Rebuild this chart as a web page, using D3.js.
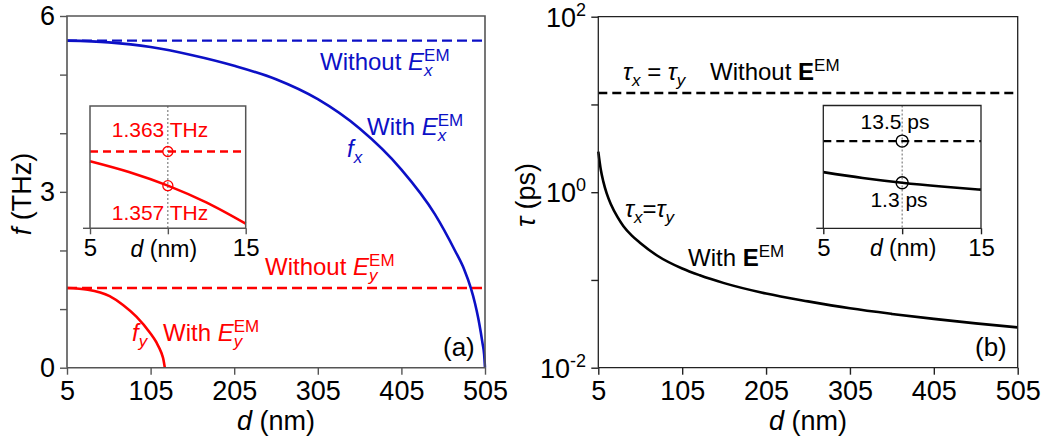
<!DOCTYPE html>
<html lang="en">
<head>
<meta charset="UTF-8">
<title>f and tau vs d</title>
<script src="https://d3js.org/d3.v7.min.js"></script>
<style>
    body { margin: 0; background: #fff; }
    text { font-family: Arial, "Liberation Sans", sans-serif; }
</style>
</head>
<body>
<svg id="chart" width="1042" height="445"></svg>
<script>
// ---- panel (a): frequencies ----
const fxD = [5, 55, 105, 155, 205, 255, 305, 355, 405, 445, 469, 480, 488, 493, 497, 500, 502, 504, 505];
const fxVal = [5.58, 5.55, 5.47, 5.33, 5.15, 4.92, 4.58, 4.08, 3.38, 2.62, 2.0, 1.68, 1.36, 1.10, 0.84, 0.60, 0.42, 0.22, 0];
const fyD = [5, 30, 56, 72, 88, 104, 112, 118, 120, 122];
const fyVal = [1.36, 1.33, 1.22, 1.07, 0.87, 0.60, 0.43, 0.25, 0.16, 0];
const fxWithout = 5.58;
const fyWithout = 1.36;
const xTicks = [5, 105, 205, 305, 405, 505];
const fTicks = [0, 1, 2, 3, 4, 5, 6];
const fTickLabels = ["0", "", "", "3", "", "", "6"];

// inset (a)
const insetD = [5, 7.5, 10, 12.5, 15];
const insetFy = [1.3613, 1.3594, 1.357, 1.3540, 1.3503];
const insetFyWithout = 1.363;

// ---- panel (b): lifetimes ----
const tauD = [5, 8, 11, 15, 20, 28, 35, 45, 55, 75, 105, 126, 155, 205, 255, 305, 355, 405, 455, 505];
const tauVal = [2.9, 1.8, 1.32, 0.97, 0.73, 0.52, 0.41, 0.32, 0.264, 0.19, 0.135, 0.113, 0.092, 0.07, 0.057, 0.0475, 0.041, 0.036, 0.032, 0.0288];
const tauWithout = 13.5;
const tauTicks = [0.01, 0.1, 1, 10, 100];
const tauTickExp = ["-2", "", "0", "", "2"];

// inset (b)
const insetTauD = [5, 7.5, 10, 12.5, 15];
const insetTau = [2.36, 1.7, 1.3, 1.05, 0.88];
const insetTauWithout = 13.5;

const BLUE = "#0c10c6";
const RED = "#ff0000";
const svg = d3.select("#chart");

// helper: text made of parts {t, it, b, sup, sub, size}
function rich(g, x, y, parts, opt = {}) {
    const t = g.append("text")
        .attr("x", x).attr("y", y)
        .attr("font-size", opt.size || 24)
        .attr("fill", opt.fill || "#000")
        .attr("text-anchor", opt.anchor || "start");
    let shift = 0, lastSupW = 0;
    parts.forEach(p => {
        const s = t.append("tspan").text(p.t);
        if (p.it) s.attr("font-style", "italic");
        if (p.b) s.attr("font-weight", "bold");
        let target = 0;
        if (p.sup) target = -(p.sup === true ? 9 : p.sup);
        if (p.sub) target = p.sub === true ? 6 : p.sub;
        if (p.sup || p.sub) s.attr("font-size", p.size || 17);
        if (target !== shift) { s.attr("dy", target - shift); shift = target; }
        if (p.stack) s.attr("dx", -lastSupW);
        if (p.sup) lastSupW = s.node().getComputedTextLength();
    });
    return t;
}

function frame(g, x0, x1, y0, y1, color, w) {
    g.append("path")
        .attr("d", `M${x0},${y1}V${y0}H${x1}V${y1}H${x0}`)
        .attr("fill", "none").attr("stroke", color).attr("stroke-width", w);
}

function styleAxis(ax, color, fs) {
    ax.select(".domain").remove();
    ax.selectAll(".tick line").attr("stroke", color).attr("stroke-width", 1.4);
    ax.selectAll(".tick text").attr("fill", "#000").attr("font-size", fs)
        .attr("font-family", 'Arial, "Liberation Sans", sans-serif');
}

// ================= panel (a) =================
const A = { l: 67, r: 485, t: 16, b: 367.7 };
const xA = d3.scaleLinear().domain([5, 505]).range([A.l, A.r]);
const yA = d3.scaleLinear().domain([0, 6]).range([A.b, A.t]);
const gA = svg.append("g");

const axAx = gA.append("g").attr("transform", `translate(0,${A.b})`)
    .call(d3.axisBottom(xA).tickValues(xTicks).tickSize(7).tickPadding(6));
styleAxis(axAx, "#555", 27);
const ayA = gA.append("g").attr("transform", `translate(${A.l},0)`)
    .call(d3.axisLeft(yA).tickValues(fTicks).tickSize(7).tickPadding(5)
        .tickFormat((d, i) => fTickLabels[i]));
styleAxis(ayA, "#555", 27);

const lineA = d3.line().x(d => xA(d[0])).y(d => yA(d[1])).curve(d3.curveMonotoneX);
gA.append("path").datum(fxD.map((d, i) => [d, fxVal[i]])).attr("d", lineA)
    .attr("fill", "none").attr("stroke", BLUE).attr("stroke-width", 2.6);
gA.append("path").datum(fyD.map((d, i) => [d, fyVal[i]])).attr("d", lineA)
    .attr("fill", "none").attr("stroke", RED).attr("stroke-width", 2.6);
gA.append("line").attr("x1", xA(5)).attr("x2", xA(505))
    .attr("y1", yA(fxWithout)).attr("y2", yA(fxWithout))
    .attr("stroke", BLUE).attr("stroke-width", 2.4).attr("stroke-dasharray", "10,5");
gA.append("line").attr("x1", xA(5)).attr("x2", xA(505))
    .attr("y1", yA(fyWithout)).attr("y2", yA(fyWithout))
    .attr("stroke", RED).attr("stroke-width", 2.4).attr("stroke-dasharray", "10,5");
frame(gA, A.l, A.r, A.t, A.b, "#555", 1.6);

rich(gA, 320, 70, [{ t: "Without " }, { t: "E", it: 1 }, { t: "EM", sup: true }, { t: "x", it: 1, sub: 6, stack: 1 }], { fill: BLUE });
rich(gA, 367, 135, [{ t: "With " }, { t: "E", it: 1 }, { t: "EM", sup: true }, { t: "x", it: 1, sub: 6, stack: 1 }], { fill: BLUE });
rich(gA, 347, 157, [{ t: "f", it: 1 }, { t: "x", it: 1, sub: true }], { fill: BLUE });
rich(gA, 265, 275, [{ t: "Without " }, { t: "E", it: 1 }, { t: "EM", sup: true }, { t: "y", it: 1, sub: 6, stack: 1 }], { fill: RED });
rich(gA, 163, 341, [{ t: "With " }, { t: "E", it: 1 }, { t: "EM", sup: true }, { t: "y", it: 1, sub: 6, stack: 1 }], { fill: RED });
rich(gA, 132, 341, [{ t: "f", it: 1 }, { t: "y", it: 1, sub: true }], { fill: RED });
rich(gA, 443, 356, [{ t: "(a)" }], { size: 26 });

rich(gA, (A.l + A.r) / 2, 430, [{ t: "d", it: 1 }, { t: " (nm)" }], { size: 27, anchor: "middle" });
rich(gA.append("g").attr("transform", "translate(31,194) rotate(-90)"), 0, 0,
    [{ t: "f", it: 1 }, { t: " (THz)" }], { size: 27, anchor: "middle" });

// inset (a)
const IA = { l: 90, r: 245.7, t: 106, b: 228.3 };
const xIA = d3.scaleLinear().domain([5, 15]).range([IA.l, IA.r]);
const yIA = d3.scaleLinear().domain([1.3495, 1.371]).range([IA.b, IA.t]);
const gIA = svg.append("g");
gIA.append("rect").attr("x", IA.l).attr("y", IA.t).attr("width", IA.r - IA.l).attr("height", IA.b - IA.t).attr("fill", "#fff");
const axIA = gIA.append("g").attr("transform", `translate(0,${IA.b})`)
    .call(d3.axisBottom(xIA).tickValues([5, 10, 15]).tickSize(6).tickPadding(5)
        .tickFormat(d => d === 10 ? "" : d));
styleAxis(axIA, "#555", 24);
gIA.append("line").attr("x1", xIA(10)).attr("x2", xIA(10)).attr("y1", IA.t).attr("y2", IA.b)
    .attr("stroke", "#666").attr("stroke-width", 1).attr("stroke-dasharray", "2,2");
gIA.append("line").attr("x1", IA.l - 7).attr("x2", IA.l).attr("y1", IA.b).attr("y2", IA.b)
    .attr("stroke", "#555").attr("stroke-width", 1.4);
gIA.append("path").datum(insetD.map((d, i) => [d, insetFy[i]]))
    .attr("d", d3.line().x(d => xIA(d[0])).y(d => yIA(d[1])).curve(d3.curveMonotoneX))
    .attr("fill", "none").attr("stroke", RED).attr("stroke-width", 2.6);
gIA.append("line").attr("x1", IA.l).attr("x2", IA.r)
    .attr("y1", yIA(insetFyWithout)).attr("y2", yIA(insetFyWithout))
    .attr("stroke", RED).attr("stroke-width", 2.4).attr("stroke-dasharray", "8,5");
gIA.selectAll("circle.mk").data([insetFyWithout, insetFy[2]]).join("circle")
    .attr("cx", xIA(10)).attr("cy", d => yIA(d)).attr("r", 5)
    .attr("fill", "none").attr("stroke", RED).attr("stroke-width", 1.3);
frame(gIA, IA.l, IA.r, IA.t, IA.b, "#555", 1.5);
rich(gIA, 160, 137, [{ t: "1.363 THz" }], { size: 21, fill: RED, anchor: "middle" });
rich(gIA, 160, 220, [{ t: "1.357 THz" }], { size: 21, fill: RED, anchor: "middle" });
rich(gIA, xIA(10) - 4, 257, [{ t: "d", it: 1 }, { t: " (nm)" }], { size: 23, anchor: "middle" });

// ================= panel (b) =================
const B = { l: 598.3, r: 1017.7, t: 16.7, b: 367.7 };
const xB = d3.scaleLinear().domain([5, 505]).range([B.l, B.r]);
const yB = d3.scaleLog().domain([0.01, 100]).range([B.b, B.t]);
const gB = svg.append("g");

const axBx = gB.append("g").attr("transform", `translate(0,${B.b})`)
    .call(d3.axisBottom(xB).tickValues(xTicks).tickSize(7).tickPadding(6));
styleAxis(axBx, "#222", 27);
const ayB = gB.append("g").attr("transform", `translate(${B.l},0)`)
    .call(d3.axisLeft(yB).tickValues(tauTicks).tickSize(7).tickFormat(""));
styleAxis(ayB, "#222", 27);
tauTicks.forEach((v, i) => {
    if (!tauTickExp[i]) return;
    rich(gB, 586, yB(v) + 10, [{ t: "10" }, { t: tauTickExp[i], sup: 11, size: 18 }], { size: 27, anchor: "end" });
});

gB.append("path").datum(tauD.map((d, i) => [d, tauVal[i]]))
    .attr("d", d3.line().x(d => xB(d[0])).y(d => yB(d[1])).curve(d3.curveMonotoneX))
    .attr("fill", "none").attr("stroke", "#000").attr("stroke-width", 2.6);
gB.append("line").attr("x1", xB(5)).attr("x2", xB(505))
    .attr("y1", yB(tauWithout)).attr("y2", yB(tauWithout))
    .attr("stroke", "#000").attr("stroke-width", 2.4).attr("stroke-dasharray", "9,5");
frame(gB, B.l, B.r, B.t, B.b, "#222", 1.3);

rich(gB, 623, 80, [{ t: "τ", it: 1 }, { t: "x", it: 1, sub: true }, { t: " = ", sub: 0.001, size: 24 }, { t: "τ", it: 1 }, { t: "y", it: 1, sub: true }]);
rich(gB, 710, 80, [{ t: "Without " }, { t: "E", b: 1 }, { t: "EM", sup: 9 }]);
rich(gB, 625, 217, [{ t: "τ", it: 1 }, { t: "x", it: 1, sub: true }, { t: "=", sub: 0.001, size: 24 }, { t: "τ", it: 1 }, { t: "y", it: 1, sub: true }]);
rich(gB, 688, 266, [{ t: "With " }, { t: "E", b: 1 }, { t: "EM", sup: 9 }]);
rich(gB, 975, 356, [{ t: "(b)" }], { size: 26 });

rich(gB, (B.l + B.r) / 2, 430, [{ t: "d", it: 1 }, { t: " (nm)" }], { size: 27, anchor: "middle" });
rich(gB.append("g").attr("transform", "translate(535,195) rotate(-90)"), 0, 0,
    [{ t: "τ", it: 1 }, { t: " (ps)" }], { size: 27, anchor: "middle" });

// inset (b)
const IB = { l: 823.3, r: 981, t: 105.5, b: 228.3 };
const xIB = d3.scaleLinear().domain([5, 15]).range([IB.l, IB.r]);
const yIB = d3.scaleLog().domain([0.1, 100]).range([IB.b, IB.t]);
const gIB = svg.append("g");
gIB.append("rect").attr("x", IB.l).attr("y", IB.t).attr("width", IB.r - IB.l).attr("height", IB.b - IB.t).attr("fill", "#fff");
const axIB = gIB.append("g").attr("transform", `translate(0,${IB.b})`)
    .call(d3.axisBottom(xIB).tickValues([5, 10, 15]).tickSize(6).tickPadding(5)
        .tickFormat(d => d === 10 ? "" : d));
styleAxis(axIB, "#222", 24);
gIB.append("line").attr("x1", xIB(10)).attr("x2", xIB(10)).attr("y1", IB.t).attr("y2", IB.b)
    .attr("stroke", "#666").attr("stroke-width", 1).attr("stroke-dasharray", "2,2");
gIB.append("line").attr("x1", IB.l - 7).attr("x2", IB.l).attr("y1", IB.b).attr("y2", IB.b)
    .attr("stroke", "#222").attr("stroke-width", 1.3);
gIB.append("path").datum(insetTauD.map((d, i) => [d, insetTau[i]]))
    .attr("d", d3.line().x(d => xIB(d[0])).y(d => yIB(d[1])).curve(d3.curveMonotoneX))
    .attr("fill", "none").attr("stroke", "#000").attr("stroke-width", 2.6);
gIB.append("line").attr("x1", IB.l).attr("x2", IB.r)
    .attr("y1", yIB(insetTauWithout)).attr("y2", yIB(insetTauWithout))
    .attr("stroke", "#000").attr("stroke-width", 2.4).attr("stroke-dasharray", "8,5");
gIB.selectAll("circle.mk").data([insetTauWithout, insetTau[2]]).join("circle")
    .attr("cx", xIB(10)).attr("cy", d => yIB(d)).attr("r", 6)
    .attr("fill", "none").attr("stroke", "#000").attr("stroke-width", 1.4);
frame(gIB, IB.l, IB.r, IB.t, IB.b, "#222", 1.3);
rich(gIB, 895, 129, [{ t: "13.5 ps" }], { size: 21, anchor: "middle" });
rich(gIB, 899, 207, [{ t: "1.3 ps" }], { size: 21, anchor: "middle" });
rich(gIB, xIB(10) + 1, 256, [{ t: "d", it: 1 }, { t: " (nm)" }], { size: 23, anchor: "middle" });
</script>
</body>
</html>
